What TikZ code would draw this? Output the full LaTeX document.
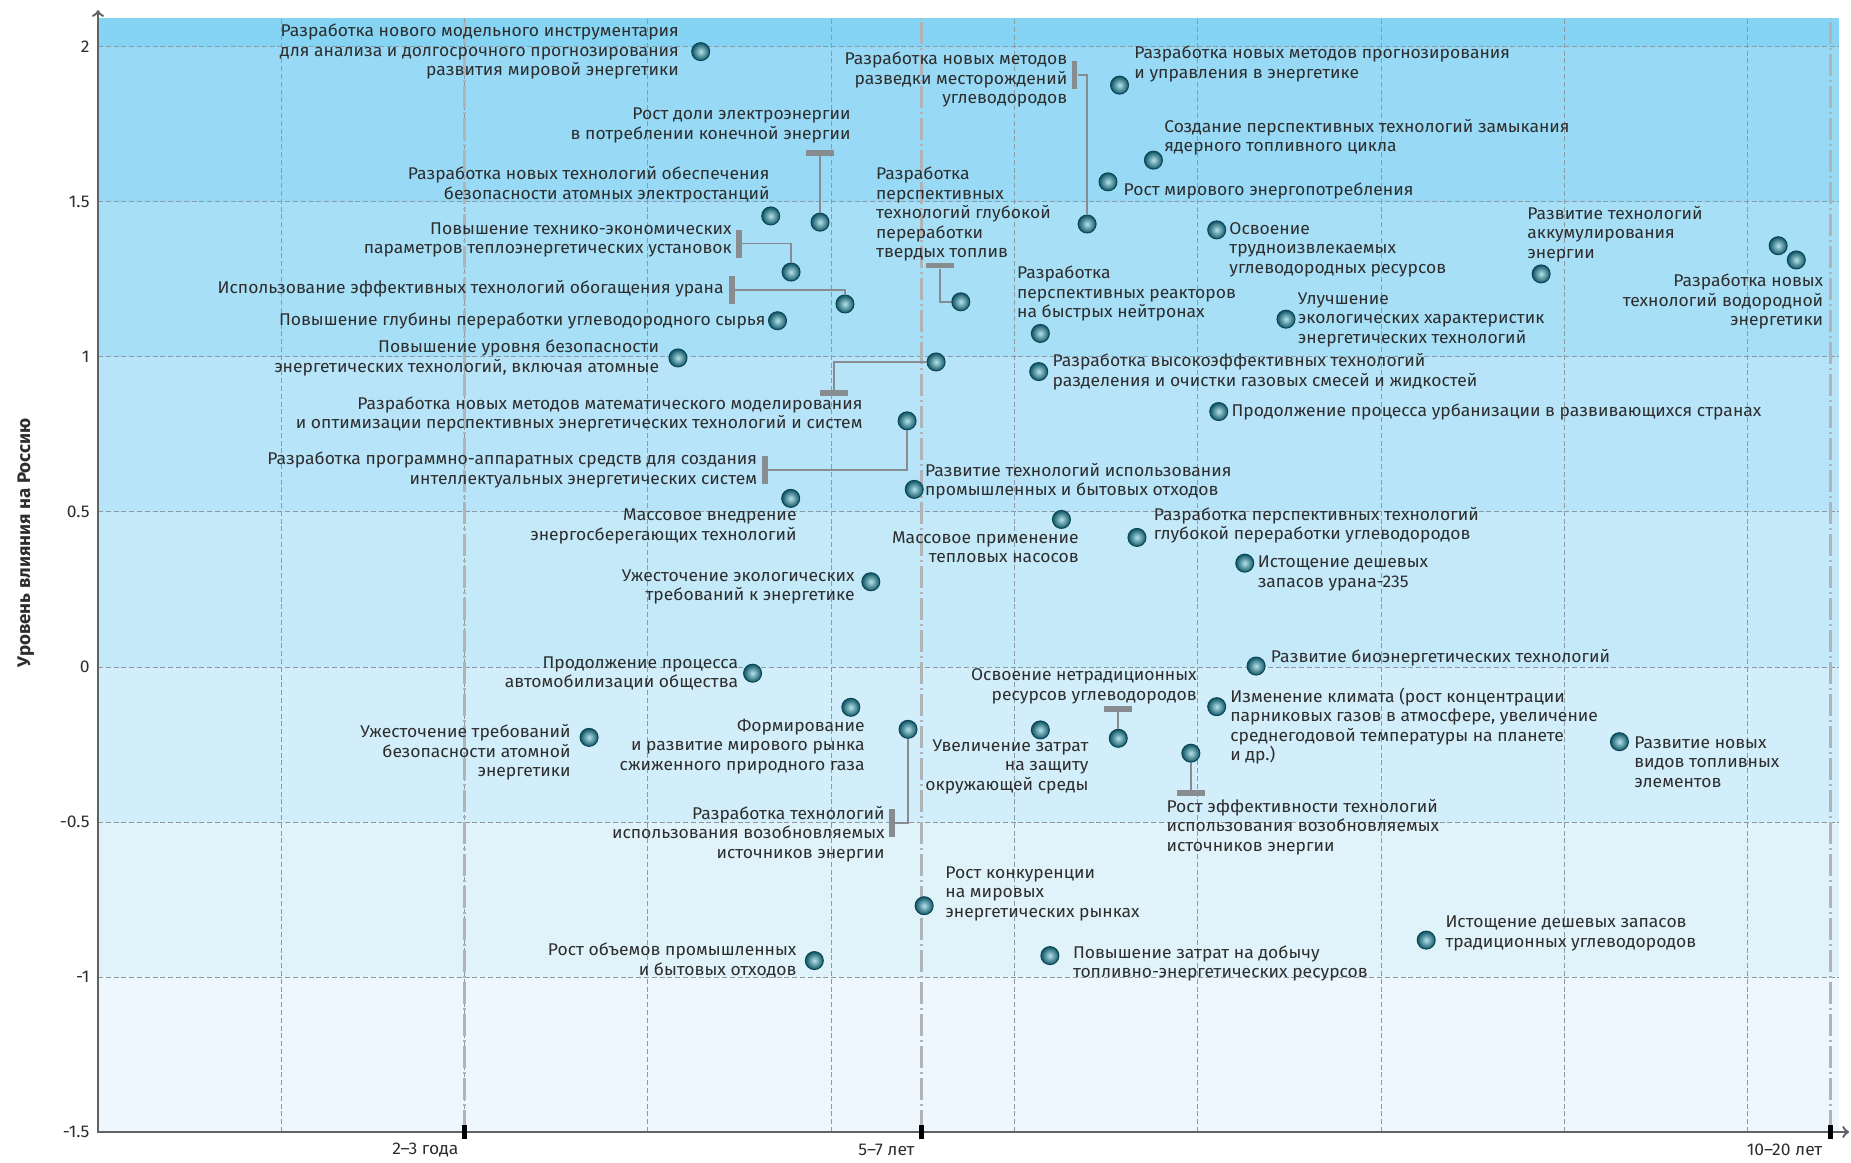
\documentclass[tikz,border=0pt]{standalone}
\usepackage{fontspec}
\setmainfont{Fira Sans}[FakeStretch=1.03]
\usepackage{tikz}
\usetikzlibrary{calc}
\usetikzlibrary{shapes,arrows}
\usetikzlibrary{positioning}
\definecolor{bandA}{HTML}{86D4F4}
\definecolor{bandB}{HTML}{98DAF6}
\definecolor{bandC}{HTML}{A7DFF7}
\definecolor{bandD}{HTML}{B7E4F8}
\definecolor{bandE}{HTML}{C4E9F9}
\definecolor{bandF}{HTML}{D2EEFA}
\definecolor{bandG}{HTML}{E0F3FB}
\definecolor{bandH}{HTML}{EEF7FD}
\definecolor{txtgray}{HTML}{2D2D2D}
\definecolor{gridgray}{HTML}{8C9AA3}
\definecolor{termgray}{HTML}{B0B4B7}
\definecolor{axisgray}{HTML}{5F6366}
\definecolor{leadgray}{HTML}{878C90}
\definecolor{dotdark}{HTML}{0E5566}
\definecolor{dotlight}{HTML}{B5E3EA}
\definecolor{dotrim}{HTML}{0A4653}
\newcommand{\lblfont}{\fontsize{8.5}{9.75}\selectfont}
\tikzstyle{lbl} = [inner sep=0pt, text=txtgray, font=\lblfont]
\tikzstyle{lblr} = [lbl, align=right]
\tikzstyle{lbll} = [lbl, align=left]
\tikzstyle{bead} = [circle, inner sep=0pt, minimum size=9pt, draw=dotrim,
 line width=0.5pt, inner color=dotlight, outer color=dotdark]
\tikzstyle{hbar} = [rectangle, fill=leadgray, inner sep=0pt, minimum width=14pt, minimum height=2.8pt]
\tikzstyle{vbar} = [rectangle, fill=leadgray, inner sep=0pt, minimum width=2.8pt, minimum height=14pt]
\tikzstyle{lead} = [draw=leadgray, line width=0.9pt]
\tikzstyle{gridline} = [draw=gridgray, line width=0.5pt, dash pattern=on 2.5pt off 1.4pt]
\tikzstyle{termline} = [draw=termgray, line width=1.5pt, dash pattern=on 11pt off 2pt on 1pt off 2pt]
\tikzstyle{axisline} = [draw=axisgray, line width=1.2pt]
\tikzstyle{tickmark} = [rectangle, fill=black, inner sep=0pt, minimum width=2.5pt, minimum height=7pt]

\begin{document}
\begin{tikzpicture}[x=91.65pt, y=155pt]
\useasboundingbox (-0.5346,-1.5968) rectangle (9.5635,2.1516);

\foreach \lo/\hi/\c in {2/2.094/bandA, 1.5/2/bandB, 1/1.5/bandC, 0.5/1/bandD,
 0/0.5/bandE, -0.5/0/bandF, -1/-0.5/bandG, -1.5/-1/bandH}
 \fill[\c] (0,\lo) rectangle (9.50,\hi);

\foreach \v in {-1,-0.5,0,0.5,1,1.5,2}
 \draw[gridline] (0,\v) -- (9.50,\v);
\foreach \x in {1,...,9}
 \draw[gridline] (\x,-1.5) -- (\x,2.094);

\foreach \x in {2.002,4.490,9.449}
 \draw[termline] (\x,-1.5) -- (\x,2.094);

\coordinate (ytop) at (0,2.119);
\coordinate (xend) at (9.553,-1.5);
\draw[axisline, <->] (ytop) |- (xend);

\foreach \x [count=\i] in {2.002,4.490,9.449}
 \node[tickmark] (tk\i) at (\x,-1.5) {};

\foreach \v [count=\i] in {-1.5,-1,-0.5,0,0.5,1,1.5,2}
 \node[lbl, anchor=east] (yl\i) at (-0.044,\v) {\v};

\node[lbl, anchor=east] (xl1) at (1.968,-1.558) {2–3 года};
\node[lbl, anchor=east] (xl2) at (4.457,-1.558) {5–7 лет};
\node[lbl, anchor=east] (xl3) at (9.409,-1.558) {10–20 лет};

\node[lbl, rotate=90, font=\fontsize{9.1}{11}\selectfont\bfseries] (ytitle) at (-0.393,0.400) {Уровень влияния на Россию};

\node[bead] (modtool) at (3.288,1.985) {};
\node[bead] (elshare) at (3.939,1.435) {};
\node[bead] (npsafe) at (3.670,1.455) {};
\node[bead] (heatpar) at (3.781,1.274) {};
\node[bead] (uranenr) at (4.075,1.171) {};
\node[bead] (hcdepth) at (3.707,1.117) {};
\node[bead] (safety) at (3.164,0.997) {};
\node[bead] (mathmod) at (4.572,0.984) {};
\node[bead] (smartsys) at (4.414,0.794) {};
\node[bead] (ensave) at (3.779,0.544) {};
\node[bead] (ecoreq) at (4.216,0.275) {};
\node[bead] (autom) at (3.571,-0.020) {};
\node[bead] (lng) at (4.107,-0.130) {};
\node[bead] (renewdev) at (4.419,-0.201) {};
\node[bead] (npsreq) at (2.679,-0.227) {};
\node[bead] (wastegrow) at (3.908,-0.947) {};
\node[bead] (compet) at (4.507,-0.770) {};
\node[bead] (prodcost) at (5.193,-0.931) {};
\node[bead] (hcdeplete) at (7.246,-0.881) {};
\node[bead] (fuelcell) at (8.300,-0.241) {};
\node[bead] (climate) at (6.103,-0.128) {};
\node[bead] (bioen) at (6.318,0.003) {};
\node[bead] (uranium) at (6.256,0.335) {};
\node[bead] (hcdeep) at (5.668,0.418) {};
\node[bead] (heatpump) at (5.256,0.476) {};
\node[bead] (wasteuse) at (4.453,0.573) {};
\node[bead] (urban) at (6.114,0.824) {};
\node[bead] (gassep) at (5.132,0.953) {};
\node[bead] (fastreact) at (5.141,1.076) {};
\node[bead] (solidfuel) at (4.707,1.178) {};
\node[bead] (explor) at (5.396,1.429) {};
\node[bead] (forecast) at (5.573,1.877) {};
\node[bead] (nfcycle) at (5.758,1.635) {};
\node[bead] (worldcons) at (5.510,1.565) {};
\node[bead] (hardres) at (6.103,1.410) {};
\node[bead] (ecochar) at (6.481,1.122) {};
\node[bead] (storage) at (7.873,1.268) {};
\node[bead] (hydroa) at (9.166,1.359) {};
\node[bead] (hydrob) at (9.265,1.313) {};
\node[bead] (unconv) at (5.566,-0.230) {};
\node[bead] (envcost) at (5.141,-0.203) {};
\node[bead] (reneweff) at (5.962,-0.278) {};

\node[hbar] (b2) at (3.939,1.658) {};
\node[vbar] (b4) at (3.497,1.366) {};
\node[vbar] (b5) at (3.459,1.216) {};
\node[hbar] (b8) at (4.015,0.884) {};
\node[vbar] (b9) at (3.639,0.635) {};
\node[vbar] (b14) at (4.332,-0.503) {};
\node[hbar] (b30) at (4.594,1.295) {};
\node[vbar] (b31) at (5.328,1.91) {};
\node[hbar] (b39) at (5.566,-0.135) {};
\node[hbar] (b41) at (5.962,-0.407) {};

\draw[lead] (b2) -- (elshare);
\draw[lead] (b4) -| (heatpar);
\draw[lead] (b5) -| (uranenr);
\draw[lead] (mathmod) -| (b8);
\draw[lead] (smartsys) |- (b9);
\draw[lead] (renewdev) |- (b14);
\draw[lead] (b30) |- (solidfuel);
\draw[lead] (b31) -| (explor);
\draw[lead] (b39) -- (unconv);
\draw[lead] (reneweff) -- (b41);

\node[lblr, left = 6pt of modtool] (modtooltxt) {Разработка нового модельного инструментария\\для анализа и долгосрочного прогнозирования\\развития мировой энергетики};
\node[lblr, anchor=east] (elsharetxt) at (4.108,1.747) {Рост доли электроэнергии\\в потреблении конечной энергии};
\node[lblr, anchor=east] (npsafetxt) at (3.666,1.555) {Разработка новых технологий обеспечения\\безопасности атомных электростанций};
\node[lblr, anchor=east] (heatpartxt) at (3.459,1.377) {Повышение технико-экономических\\параметров теплоэнергетических установок};
\node[lblr, anchor=east] (uranenrtxt) at (3.415,1.219) {Использование эффективных технологий обогащения урана};
\node[lblr, left = 1pt of hcdepth] (hcdepthtxt) {Повышение глубины переработки углеводородного сырья};
\node[lblr, left = 4.5pt of safety] (safetytxt) {Повышение уровня безопасности\\энергетических технологий, включая атомные};
\node[lblr, anchor=east] (mathmodtxt) at (4.173,0.815) {Разработка новых методов математического моделирования\\и оптимизации перспективных энергетических технологий и систем};
\node[lblr, anchor=east] (smartsystxt) at (3.598,0.635) {Разработка программно-аппаратных средств для создания\\интеллектуальных энергетических систем};
\node[lblr, anchor=east] (ensavetxt) at (3.813,0.454) {Массовое внедрение\\энергосберегающих технологий};
\node[lblr, anchor=east] (ecoreqtxt) at (4.130,0.259) {Ужесточение экологических\\требований к энергетике};
\node[lblr, left = 2.3pt of autom] (automtxt) {Продолжение процесса\\автомобилизации общества};
\node[lblr, anchor=east] (lngtxt) at (4.184,-0.256) {Формирование\\и развитие мирового рынка\\сжиженного природного газа};
\node[lblr, anchor=east] (renewdevtxt) at (4.294,-0.539) {Разработка технологий\\использования возобновляемых\\источников энергии};
\node[lblr, anchor=east] (npsreqtxt) at (2.580,-0.275) {Ужесточение требований\\безопасности атомной\\энергетики};
\node[lblr, left = 4pt of wastegrow] (wastegrowtxt) {Рост объемов промышленных\\и бытовых отходов};
\node[lbll, anchor=west] (compettxt) at (4.621,-0.732) {Рост конкуренции\\на мировых\\энергетических рынках};
\node[lbll, anchor=west] (prodcosttxt) at (5.317,-0.956) {Повышение затрат на добычу\\топливно-энергетических ресурсов};
\node[lbll, anchor=west] (hcdepletetxt) at (7.349,-0.859) {Истощение дешевых запасов\\традиционных углеводородов};
\node[lbll, anchor=west] (fuelcelltxt) at (8.379,-0.307) {Развитие новых\\видов топливных\\элементов};
\node[lbll, anchor=west] (climatetxt) at (6.175,-0.190) {Изменение климата (рост концентрации\\парниковых газов в атмосфере, увеличение\\среднегодовой температуры на планете\\и др.)};
\node[lbll, anchor=west] (bioentxt) at (6.397,0.030) {Развитие биоэнергетических технологий};
\node[lbll, anchor=west] (uraniumtxt) at (6.325,0.302) {Истощение дешевых\\запасов урана-235};
\node[lbll, anchor=west] (hcdeeptxt) at (5.758,0.458) {Разработка перспективных технологий\\глубокой переработки углеводородов};
\node[lblr, anchor=east] (heatpumptxt) at (5.352,0.387) {Массовое применение\\тепловых насосов};
\node[lbll, anchor=west] (wasteusetxt) at (4.510,0.600) {Развитие технологий использования\\промышленных и бытовых отходов};
\node[lbll, right = 1.5pt of urban] (urbantxt) {Продолжение процесса урбанизации в развивающихся странах};
\node[lbll, right = 2pt of gassep] (gasseptxt) {Разработка высокоэффективных технологий\\разделения и очистки газовых смесей и жидкостей};
\node[lbll, anchor=west] (fastreacttxt) at (5.012,1.205) {Разработка\\перспективных реакторов\\на быстрых нейтронах};
\node[lbll, anchor=west] (solidfueltxt) at (4.243,1.461) {Разработка\\перспективных\\технологий глубокой\\переработки\\твердых топлив};
\node[lblr, anchor=east] (explortxt) at (5.290,1.895) {Разработка новых методов\\разведки месторождений\\углеводородов};
\node[lbll, anchor=west] (forecasttxt) at (5.652,1.946) {Разработка новых методов прогнозирования\\и управления в энергетике};
\node[lbll, anchor=west] (nfcycletxt) at (5.815,1.709) {Создание перспективных технологий замыкания\\ядерного топливного цикла};
\node[lbll, anchor=west] (worldconstxt) at (5.593,1.536) {Рост мирового энергопотребления};
\node[lbll, anchor=west] (hardrestxt) at (6.170,1.346) {Освоение\\трудноизвлекаемых\\углеводородных ресурсов};
\node[lbll, anchor=west] (ecochartxt) at (6.544,1.120) {Улучшение\\экологических характеристик\\энергетических технологий};
\node[lbll, anchor=west] (storagetxt) at (7.796,1.396) {Развитие технологий\\аккумулирования\\энергии};
\node[lblr, anchor=east] (hydrotxt) at (9.414,1.178) {Разработка новых\\технологий водородной\\энергетики};
\node[lblr, anchor=east] (unconvtxt) at (5.996,-0.063) {Освоение нетрадиционных\\ресурсов углеводородов};
\node[lblr, anchor=east] (envcosttxt) at (5.406,-0.322) {Увеличение затрат\\на защиту\\окружающей среды};
\node[lbll, anchor=west] (renewefftxt) at (5.827,-0.516) {Рост эффективности технологий\\использования возобновляемых\\источников энергии};

\end{tikzpicture}
\end{document}
